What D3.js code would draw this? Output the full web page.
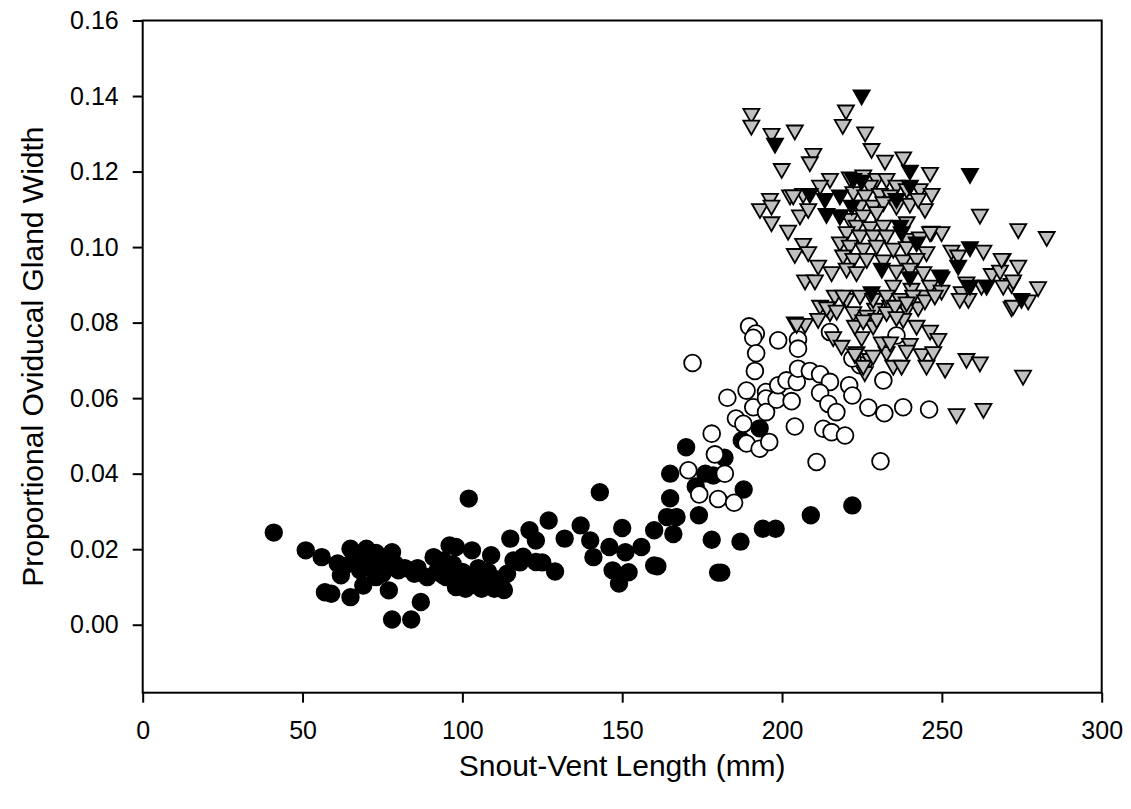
<!DOCTYPE html>
<html>
<head>
<meta charset="utf-8">
<script src="https://cdn.jsdelivr.net/npm/d3@7"></script>
<style>
  body { margin: 0; background: #fff; }
  svg text { font-family: Arial, "Liberation Sans", sans-serif; fill: #000; }
</style>
</head>
<body>
<div id="chart"></div>
<script>
// Axis ticks
const xTicks = [0, 50, 100, 150, 200, 250, 300];
const yTicks = [0, 0.02, 0.04, 0.06, 0.08, 0.10, 0.12, 0.14, 0.16];

// Filled circles: [SVL (mm), proportional width]
const filledCircles = [
  [41,0.0244],[51,0.0197],[56,0.0179],[57,0.0086],[59,0.0082],[61,0.0162],[62,0.0131],[63,0.0155],
  [65,0.0201],[65,0.0073],[66,0.0185],[67,0.0165],[68,0.0144],[69,0.0104],[70,0.0201],[70,0.0175],
  [71,0.0155],[72,0.017],[73,0.0126],[73,0.019],[74,0.015],[75,0.0135],[76,0.0165],[77,0.0091],
  [78,0.0014],[78,0.0192],[79,0.016],[80,0.0144],[82,0.015],[84,0.0014],[85,0.0135],[86,0.015],
  [87,0.006],[89,0.0126],[91,0.0179],[92,0.014],[94,0.0131],[94,0.017],[95,0.0126],[96,0.021],
  [97,0.016],[98,0.0206],[98,0.01],[100,0.0115],[100,0.014],[101,0.0095],[102,0.0334],[103,0.0197],
  [103,0.012],[104,0.0105],[105,0.015],[106,0.0095],[107,0.0125],[108,0.014],[109,0.0184],[110,0.0095],
  [111,0.012],[112,0.0105],[113,0.0092],[114,0.0135],[115,0.0228],[116,0.017],[118,0.0165],[119,0.018],
  [121,0.025],[123,0.0223],[123,0.0166],[125,0.0165],[127,0.0276],[129,0.0141],[132,0.0228],[137,0.0263],
  [140,0.0223],[141,0.0179],[143,0.0351],[146,0.0206],[147,0.0144],[149,0.0109],[150,0.0256],[151,0.0192],
  [152,0.0139],[156,0.0206],[160,0.025],[160,0.0157],[161,0.0155],[164,0.0285],[167,0.0285],[165,0.040],
  [165,0.0335],[166,0.024],[170,0.047],[173,0.0366],[174,0.029],[176,0.040],[178,0.0225],[178.5,0.0395],
  [180,0.0138],[181,0.0138],[182,0.0442],[187,0.022],[187.4,0.0488],[188,0.0358],[193,0.052],[194,0.0254],
  [198,0.0254],[209,0.029],[222,0.0316]
];

// Open circles
const openCircles = [
  [172,0.0693],[189.7,0.079],[191.8,0.0771],[191,0.076],[198.8,0.0753],[191.9,0.0719],[191.5,0.0672],
  [205,0.0755],[205,0.0731],[182.9,0.0601],[188.9,0.062],[191,0.0576],[195,0.0616],[195,0.0599],
  [195,0.0563],[198.3,0.0596],[198.8,0.0634],[201.4,0.0647],[203,0.0592],[204.6,0.0643],[205,0.0678],
  [208.7,0.0672],[211.9,0.0663],[215,0.0643],[211.9,0.0614],[214.5,0.0585],[217,0.0563],[221,0.0634],
  [222,0.0607],[185.6,0.0546],[187.9,0.0532],[204,0.0525],[212.9,0.0519],[215.5,0.051],[219.7,0.0501],
  [227,0.0575],[232,0.056],[237.9,0.0576],[246,0.057],[210.8,0.0431],[230.8,0.0433],[231.7,0.0647],
  [178,0.0506],[188.9,0.048],[193,0.0466],[196,0.0484],[179,0.0451],[182.1,0.040],[170.7,0.0409],
  [174.1,0.0345],[180,0.0333],[185,0.0323],[215,0.0775],[224.4,0.0687],[235.8,0.0766],[222,0.0705]
];

// Grey triangles
const greyTriangles = [
  [190.4,0.1349],[190.4,0.1318],[196.7,0.1296],[204,0.1305],[220,0.1358],[219,0.132],[226,0.130],
  [228,0.1256],[209.8,0.1243],[208.7,0.1221],[199.9,0.1203],[232.2,0.1225],[237.9,0.1234],[246.3,0.1193],
  [261.9,0.1082],[273.9,0.1044],[282.8,0.1023],[196.2,0.1124],[193.1,0.1097],[196.7,0.1106],[196.7,0.1062],
  [202.5,0.1133],[205.6,0.108],[201.9,0.104],[206.6,0.1005],[204,0.0978],[208.2,0.0983],[211.3,0.0947],
  [215.5,0.093],[207.2,0.0908],[210.3,0.0908],[215,0.1177],[211.9,0.1159],[208.2,0.1097],[206.6,0.1137],
  [203.5,0.1133],[269,0.0965],[273.9,0.0947],[265.6,0.0925],[268.2,0.0934],[271.8,0.0899],[280.1,0.089],
  [271.8,0.0837],[277,0.0855],[263,0.0987],[253,0.0987],[255.1,0.0974],[246.8,0.1037],[249.9,0.1036],
  [256.2,0.0877],[258.3,0.0859],[246.3,0.0894],[249.9,0.0881],[244.7,0.0868],[234.8,0.0894],[240.5,0.0886],
  [229.1,0.0833],[233.8,0.0841],[239,0.0833],[242.6,0.0837],[216.5,0.0868],[220.2,0.0859],[211.9,0.0841],
  [215,0.0824],[222.3,0.0824],[226.5,0.0815],[204,0.0797],[207.2,0.0793],
  [221.2,0.1181],[225.4,0.1186],[229.6,0.1177],[232.7,0.1177],[227.5,0.1159],[235.8,0.1159],[239,0.115],
  [243.1,0.115],[246.8,0.1137],[222.3,0.1142],[226,0.1133],[230.6,0.1137],[233.8,0.1133],[224.4,0.1106],
  [228.5,0.1106],[231.7,0.1115],[235.8,0.1106],[240,0.1111],[244.7,0.1097],[242.6,0.1124],[218.1,0.108],
  [221.2,0.1071],[225.4,0.108],[229.6,0.1089],[223.3,0.1053],[227.5,0.1049],[231.7,0.1053],[239,0.1062],
  [220.2,0.1036],[224.4,0.1027],[228.5,0.1027],[232.7,0.1027],[239,0.1018],[243.1,0.1022],[246.3,0.1036],
  [218.1,0.1009],[221.2,0.1],[225.4,0.0992],[229.6,0.1],[234.8,0.0992],[239,0.0996],[245.2,0.0983],
  [219.1,0.0974],[222.3,0.0965],[226.5,0.0965],[231.7,0.0961],[237.9,0.0961],[242.1,0.0965],[220.2,0.0939],
  [223.3,0.093],[235.8,0.0934],[240,0.0939],[244.2,0.093],[219.1,0.0868],[224.4,0.0868],[228.5,0.0859],
  [232.7,0.0868],[236.9,0.0859],[241,0.0868],
  [224.9,0.0758],[228.5,0.0788],[223.3,0.0718],[227.5,0.07],[225.9,0.0665],[234.8,0.0682],[232.7,0.0718],
  [231.2,0.0744],[237.9,0.0806],[242.1,0.0788],[246.3,0.0775],[248.9,0.0753],[240,0.074],[243.7,0.0713],
  [247.3,0.0718],[245.2,0.0682],[251,0.0674],[257.7,0.07],[261.9,0.0691],[275.4,0.0656],[263,0.0568],
  [254.6,0.0554],[239,0.0722],[229.6,0.0806],[232.7,0.0824],[235.3,0.0841],[239,0.085],[244.7,0.0855],
  [247.8,0.0868],[257.7,0.0903],[262.4,0.0894],[269.2,0.0894],[272.3,0.0908],[272.3,0.0841],[255.6,0.0859],
  [268.7,0.0965],[204.6,0.0793],[211.3,0.0806],[214,0.0837],[217.1,0.0828],[216,0.0758],[218.6,0.0735],
  [222.8,0.0788],[225.4,0.0802],[222.8,0.0713],[225.4,0.0682],[228.5,0.0709],[233.8,0.0744],[235.8,0.0811],
  [237.4,0.0682]
];

// Black triangles
const blackTriangles = [
  [224.9,0.1398],[197.8,0.127],[258.8,0.119],[240,0.1199],[222.3,0.1177],[224.9,0.1172],[208.7,0.1137],
  [213.4,0.1124],[218.1,0.1133],[213.9,0.1084],[218.1,0.108],[221.8,0.1106],[235.8,0.1124],[240,0.1159],
  [236.9,0.1053],[237.4,0.1036],[242.1,0.1009],[258.8,0.0996],[255.1,0.0947],[249.9,0.0917],[258.8,0.0894],
  [264,0.0894],[274.9,0.0859],[231.2,0.0939],[240,0.0917],[228,0.0877],[249.4,0.0921]
];

const width = 1131;
const height = 809;
const margin = { top: 20.5, right: 29.3, bottom: 116.3, left: 142.7 };

const svg = d3.select("#chart")
  .append("svg")
  .attr("width", width)
  .attr("height", height);

const x = d3.scaleLinear()
  .domain([0, 300])
  .range([margin.left, width - margin.right]);

const y = d3.scaleLinear()
  .domain([-0.018, 0.16])
  .range([height - margin.bottom, margin.top]);

// Markers
const r = 8.4;
svg.append("g").selectAll("circle")
  .data(filledCircles)
  .enter()
  .append("circle")
  .attr("cx", d => x(d[0]))
  .attr("cy", d => y(d[1]))
  .attr("r", r)
  .attr("fill", "#000")
  .attr("stroke", "#000")
  .attr("stroke-width", 1.6);

svg.append("g").selectAll("circle")
  .data(openCircles)
  .enter()
  .append("circle")
  .attr("cx", d => x(d[0]))
  .attr("cy", d => y(d[1]))
  .attr("r", r)
  .attr("fill", "#fff")
  .attr("stroke", "#000")
  .attr("stroke-width", 1.8);

// downward triangle centred on the point
const tri = (cx, cy) => `M${cx - 8},${cy - 6.4}L${cx + 8},${cy - 6.4}L${cx},${cy + 7.6}Z`;

svg.append("g").selectAll("path")
  .data(greyTriangles)
  .enter()
  .append("path")
  .attr("d", d => tri(x(d[0]), y(d[1])))
  .attr("fill", "#c0c0c0")
  .attr("stroke", "#000")
  .attr("stroke-width", 1.8)
  .attr("stroke-linejoin", "miter");

svg.append("g").selectAll("path")
  .data(blackTriangles)
  .enter()
  .append("path")
  .attr("d", d => tri(x(d[0]), y(d[1])))
  .attr("fill", "#000")
  .attr("stroke", "#000")
  .attr("stroke-width", 1.8);

// Frame
svg.append("rect")
  .attr("x", margin.left)
  .attr("y", margin.top)
  .attr("width", width - margin.left - margin.right)
  .attr("height", height - margin.top - margin.bottom)
  .attr("fill", "none")
  .attr("stroke", "#000")
  .attr("stroke-width", 2);

// X axis
const xAxis = svg.append("g")
  .attr("transform", `translate(0,${height - margin.bottom})`)
  .call(d3.axisBottom(x).tickValues(xTicks).tickSize(10).tickSizeOuter(0).tickPadding(19));
xAxis.select(".domain").remove();
xAxis.selectAll("line").attr("stroke-width", 2);
xAxis.selectAll("text").attr("font-size", "25px").attr("font-family", "Arial, 'Liberation Sans', sans-serif");

// Y axis
const yAxis = svg.append("g")
  .attr("transform", `translate(${margin.left},0)`)
  .call(d3.axisLeft(y).tickValues(yTicks).tickFormat(d3.format(".2f")).tickSize(10).tickSizeOuter(0).tickPadding(14));
yAxis.select(".domain").remove();
yAxis.selectAll("line").attr("stroke-width", 2);
yAxis.selectAll("text").attr("font-size", "25px").attr("font-family", "Arial, 'Liberation Sans', sans-serif");

// Axis titles
svg.append("text")
  .attr("x", (margin.left + width - margin.right) / 2)
  .attr("y", 776)
  .attr("text-anchor", "middle")
  .attr("font-size", "30px")
  .text("Snout-Vent Length (mm)");

svg.append("text")
  .attr("transform", `translate(43,${(margin.top + height - margin.bottom) / 2}) rotate(-90)`)
  .attr("text-anchor", "middle")
  .attr("font-size", "30px")
  .text("Proportional Oviducal Gland Width");
</script>
</body>
</html>
